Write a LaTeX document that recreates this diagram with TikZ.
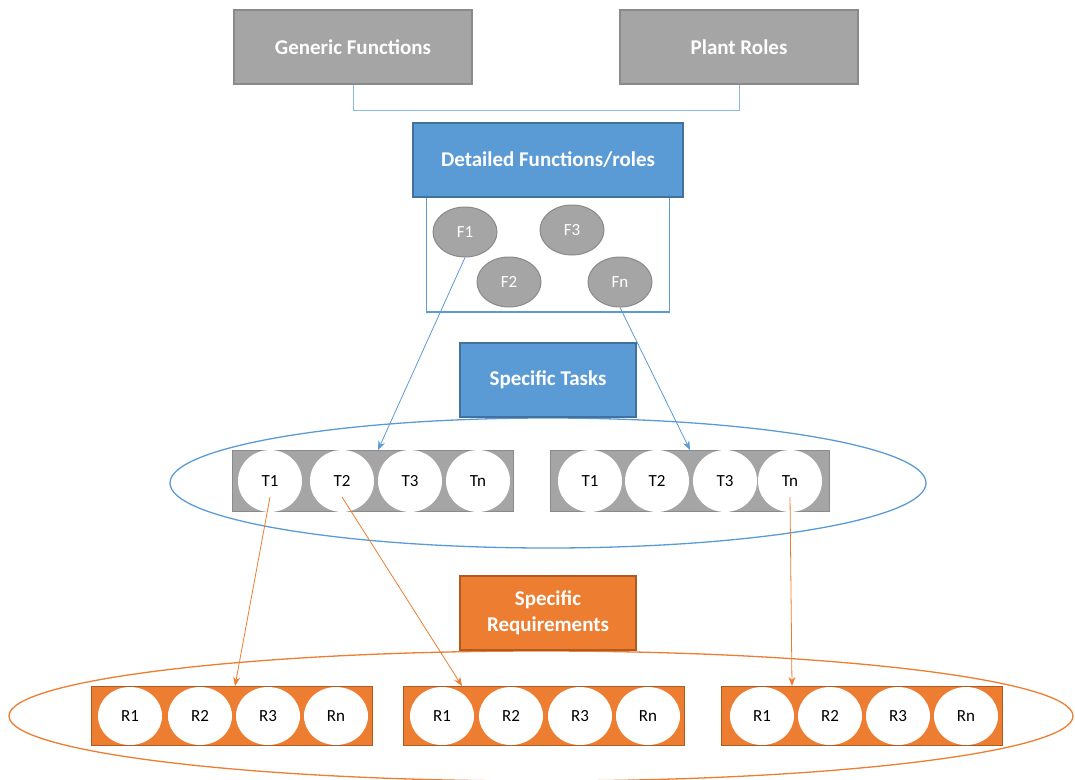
\documentclass[tikz,border=0pt]{standalone}
\usepackage{fontspec}
\setmainfont{Carlito}
\usepackage{tikz}
\usetikzlibrary{shapes.geometric, positioning, calc, arrows.meta}

\definecolor{boxgray}{HTML}{A5A5A5}
\definecolor{edgegray}{HTML}{8A8A8A}
\definecolor{boxblue}{HTML}{5B9BD5}
\definecolor{edgeblue}{HTML}{41719C}
\definecolor{boxorange}{HTML}{ED7D31}
\definecolor{edgeorange}{HTML}{AE5A21}

\tikzset{
  head/.style={draw=#1, line width=1.3pt, minimum width=238pt, minimum height=74pt,
    text=white, font=\fontsize{21}{26}\selectfont\bfseries, align=center},
  fcirc/.style={ellipse, draw=edgegray, fill=boxgray, line width=1pt,
    minimum width=64pt, minimum height=50pt, text=white, font=\fontsize{17}{19}\selectfont},
  wcirc/.style={ellipse, fill=white, minimum width=64pt, minimum height=62pt,
    font=\fontsize{17}{19}\selectfont},
  strip/.style={draw=#1, line width=1.3pt, minimum width=281pt, minimum height=61pt},
  blink/.style={draw=boxblue, line width=0.8pt, -{Stealth[length=9pt,width=7pt]}},
  olink/.style={draw=boxorange, line width=0.8pt, -{Stealth[length=9pt,width=7pt]}}
}

\begin{document}
\begin{tikzpicture}[x=1pt,y=-1pt]
  \useasboundingbox (0,0) rectangle (1075,779);

  % ==========================================
  % Top: generic functions and plant roles
  % ==========================================
  \node[head=edgegray, fill=boxgray] (gen) at (353,47) {Generic Functions};
  \node[head=edgegray, fill=boxgray] (plant) at (739,47) {Plant Roles};
  \coordinate (joinl) at (353,110);
  \coordinate (joinr) at (739,110);
  \draw[boxblue!70, line width=1pt] (gen.south) -- (joinl) -- (joinr) -- (plant.south);

  % ==========================================
  % Detailed functions/roles with F ellipses
  % ==========================================
  \node[draw=boxblue, line width=1.3pt, minimum width=243pt, minimum height=116pt] (fbox) at (548,254) {};
  \node[head=edgeblue, fill=boxblue, minimum width=270pt] (det) at (548,160) {Detailed Functions/roles};
  \node[fcirc] (f1) at (465,232) {F1};
  \node[fcirc] (f3) at (572,230) {F3};
  \node[fcirc] (f2) at (509,282) {F2};
  \node[fcirc] (fn) at (620,282) {Fn};

  % ==========================================
  % Specific tasks
  % ==========================================
  \node[draw=boxblue, line width=1.3pt, ellipse, minimum width=756pt, minimum height=130pt] (tring) at (548,483) {};
  \node[head=edgeblue, fill=boxblue, minimum width=176pt] (tasks) at (548,380) {Specific Tasks};

  \node[strip=edgegray, fill=boxgray] (tleft) at (373,481) {};
  \node[strip=edgegray, fill=boxgray, minimum width=279pt] (tright) at (690,481) {};
  \foreach \x/\t/\n in {270/T1/a1, 342/T2/a2, 410/T3/a3, 478/Tn/an}
    \node[wcirc] (\n) at (\x,481) {\t};
  \foreach \x/\t/\n in {590/T1/b1, 657/T2/b2, 725/T3/b3, 790/Tn/bn}
    \node[wcirc] (\n) at (\x,481) {\t};

  \coordinate (tin1) at (378,450);
  \coordinate (tin2) at (690,450);
  \draw[blink] (f1.south) -- (tin1);
  \draw[blink] (fn.south) -- (tin2);

  % ==========================================
  % Specific requirements
  % ==========================================
  \node[draw=boxorange, line width=1.3pt, ellipse, minimum width=1064pt, minimum height=130pt] (rring) at (541,716) {};
  \node[head=edgeorange, fill=boxorange, minimum width=176pt] (reqs) at (548,613) {Specific\\Requirements};

  \node[strip=edgeorange, fill=boxorange, minimum height=59pt] (rleft) at (232,716) {};
  \node[strip=edgeorange, fill=boxorange, minimum height=59pt] (rmid) at (544,716) {};
  \node[strip=edgeorange, fill=boxorange, minimum height=59pt] (rright) at (862,716) {};
  \foreach \x/\r/\n in {130/R1/c1, 200/R2/c2, 268/R3/c3, 336/Rn/cn,
                        442/R1/d1, 511/R2/d2, 580/R3/d3, 648/Rn/dn,
                        762/R1/e1, 830/R2/e2, 898/R3/e3, 966/Rn/en}
    \node[wcirc, minimum height=58pt] (\n) at (\x,716) {\r};

  \coordinate (rin1) at (235,686);
  \coordinate (rin2) at (462,686);
  \coordinate (rin3) at (792,686);
  \draw[olink] (a1.center) ++(0,16) -- (rin1);
  \draw[olink] (a2.center) ++(0,16) -- (rin2);
  \draw[olink] (bn.center) ++(0,16) -- (rin3);
\end{tikzpicture}
\end{document}
